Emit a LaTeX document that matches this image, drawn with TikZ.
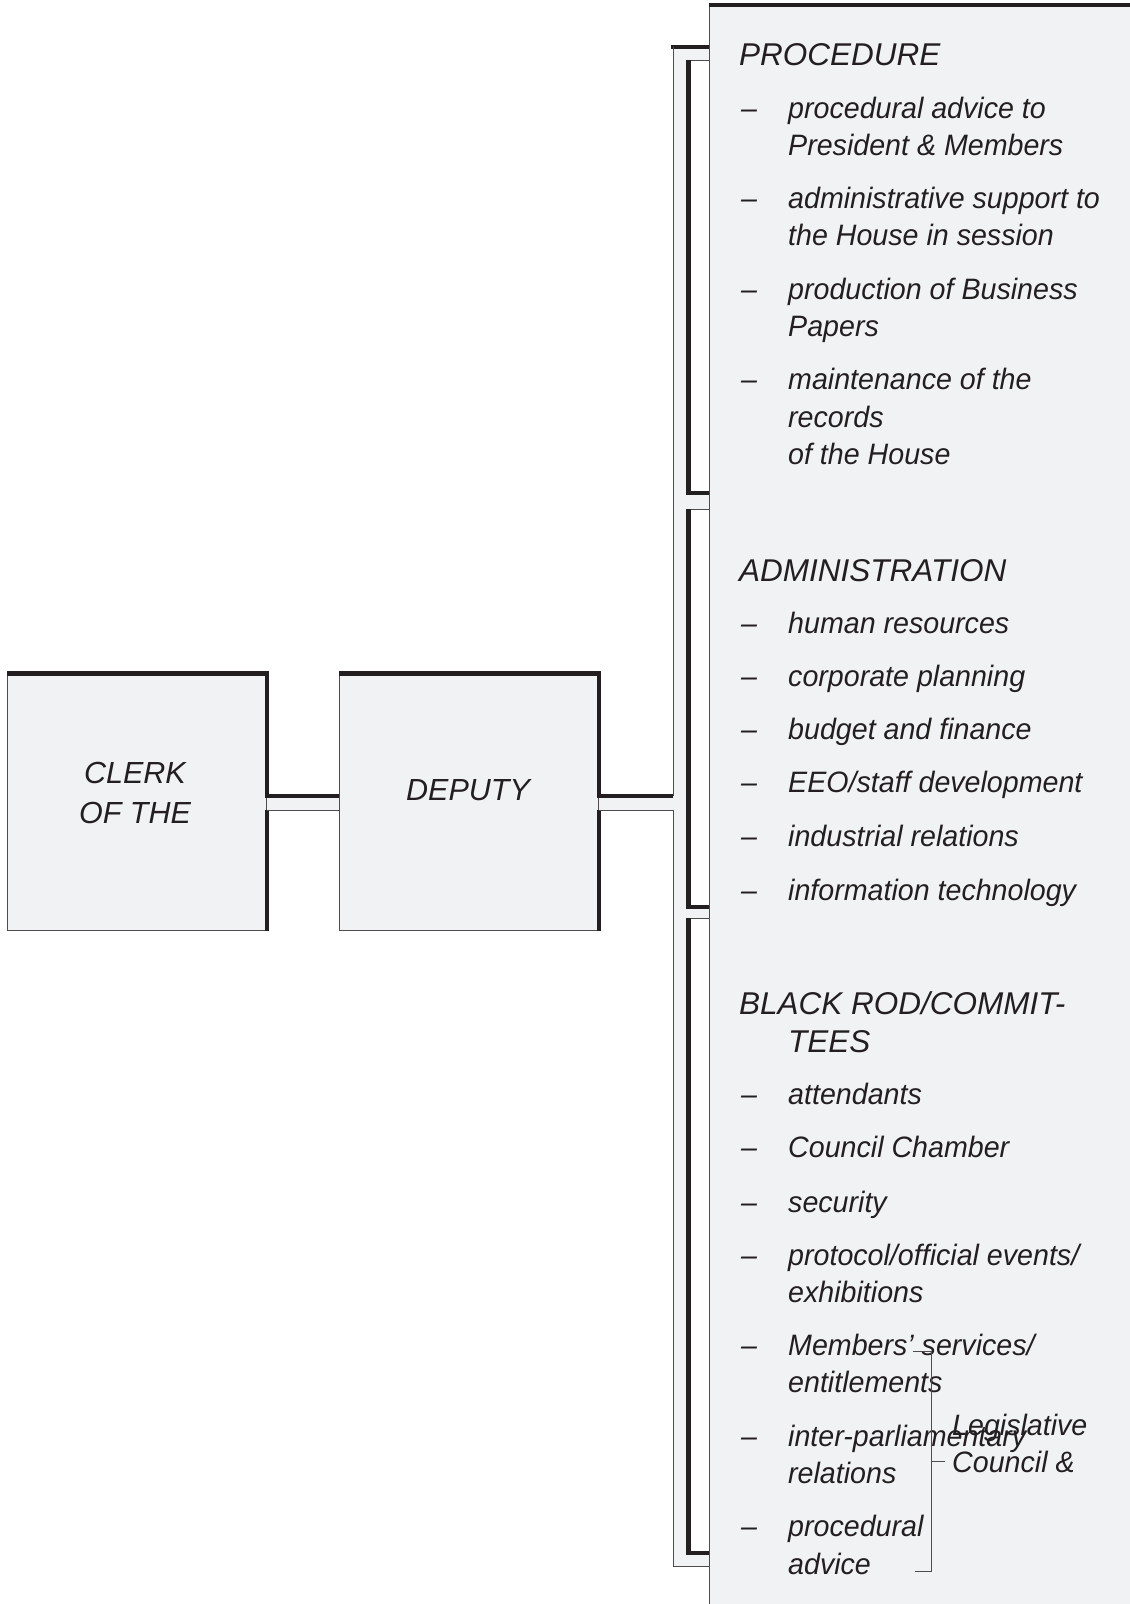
\documentclass[tikz,border=0pt]{standalone}
\usepackage{fontspec}
\setmainfont{Liberation Sans}
\newfontfamily\condfont{Liberation Sans}[FakeStretch=0.97,Ligatures=TeX]
\usetikzlibrary{calc}
\definecolor{paper}{RGB}{241,242,244}
\definecolor{ink}{RGB}{35,31,32}
\begin{document}
\begin{tikzpicture}[x=1pt,y=-1pt]
        \tikzset{box/.style = {shape=rectangle,fill=paper,draw=ink!80,line width=1pt,minimum width=259pt,minimum height=256pt,inner sep=0pt}}
        \tikzset{heavy/.style = {draw=ink,line width=4.5pt}}
        \tikzset{light/.style = {draw=ink!80,line width=1pt}}
        \tikzset{txt/.style = {anchor=base west,inner sep=0pt,text=ink,font=\condfont\fontsize{29.5}{36}\selectfont\itshape}}
        \tikzset{headtxt/.style = {txt,font=\fontsize{31.5}{36}\selectfont\itshape}}
        \tikzset{boxtxt/.style = {align=center,inner sep=0pt,text=ink,font=\fontsize{30.5}{40}\selectfont\itshape}}
        \useasboundingbox (0,0) rectangle (1130,1604);
        % panel on the right
        \fill[paper] (709,5) rectangle (1130,1604);
        \draw[light] (709,5) -- (709,1604);
        \draw[heavy] (709,5) -- (1130,5);
        % column between deputy and panel
        \coordinate (col) at (673,802);
        \fill[paper] (673,47) rectangle (709,1566);
        \foreach \top/\bot in {60/493,509/907,918/1553} {
            \fill[white] (690,\top) rectangle (709,\bot);
            \draw[light] (688,\top) -- (709,\top);
            \draw[heavy] (688.5,\top) -- (688.5,\bot) -- (709,\bot);
        }
        \draw[heavy] (671,47) -- (709,47);
        \draw[light] ($(col)+(0,-6)$) -- (673,47);
        \draw[light] ($(col)+(0,8)$) -- (673,1566) -- (709,1566);
        % boxes on the left
        \node[box] (clerk) at (137,802) {};
        \node[box] (deputy) at (469,802) {};
        \node[boxtxt] (clerktxt) at (135,793) {CLERK\\OF THE};
        \node[boxtxt] (deputytxt) at (468,790) {DEPUTY};
        % pipes between the boxes
        \fill[paper] ($(clerk.east)+(0,-6)$) rectangle ($(deputy.west)+(0,8)$);
        \fill[paper] ($(deputy.east)+(0,-6)$) rectangle ($(col)+(0,8)$);
        \draw[heavy] (clerk.north west) -- (clerk.north east) -- ($(clerk.east)+(0,-6)$) -- ($(deputy.west)+(0,-6)$);
        \draw[heavy] ($(clerk.east)+(0,8)$) -- (clerk.south east);
        \draw[light] ($(clerk.east)+(0,8)$) -- ($(deputy.west)+(0,8)$);
        \draw[heavy] (deputy.north west) -- (deputy.north east) -- ($(deputy.east)+(0,-6)$) -- ($(col)+(0,-6)$);
        \draw[heavy] ($(deputy.east)+(0,8)$) -- (deputy.south east);
        \draw[light] ($(deputy.east)+(0,8)$) -- ($(col)+(0,8)$);
        % procedure
        \node[headtxt] (proc) at (739,65) {PROCEDURE};
        \foreach \y [count=\i] in {118,208,299,389}
            \node[txt] (pdash\i) at (741,\y) {–};
        \foreach \y/\t [count=\i] in {118/{procedural advice to},155/{President \& Members},
            208/{administrative support to},245/{the House in session},
            299/{production of Business},336/{Papers},
            389/{maintenance of the},427/{records},464/{of the House}}
            \node[txt] (proc\i) at (788,\y) {\t};
        % administration
        \node[headtxt] (admin) at (739,581) {ADMINISTRATION};
        \foreach \y/\t [count=\i] in {633/{human resources},686/{corporate planning},
            739/{budget and finance},792/{EEO/staff development},
            846/{industrial relations},900/{information technology}} {
            \node[txt] (adash\i) at (741,\y) {–};
            \node[txt] (admin\i) at (788,\y) {\t};
        }
        % black rod / committees
        \node[headtxt] (rod) at (739,1014) {BLACK ROD/COMMIT-};
        \node[headtxt] (rodb) at (788,1052) {TEES};
        \foreach \y [count=\i] in {1104,1157,1212,1265,1355,1446,1536}
            \node[txt] (rdash\i) at (741,\y) {–};
        \foreach \y/\t [count=\i] in {1104/{attendants},1157/{Council Chamber},1212/{security},
            1265/{protocol/official events/},1302/{exhibitions},
            1355/{Members’ services/},1392/{entitlements},
            1446/{inter-parliamentary},1483/{relations},
            1536/{procedural},1574/{advice}}
            \node[txt] (rod\i) at (788,\y) {\t};
        % bracket for the council
        \node[txt] (leg) at (952,1435) {Legislative};
        \node[txt] (council) at (952,1472) {Council \&};
        \coordinate (btop) at (913,1351);
        \coordinate (bbot) at (915,1571);
        \coordinate (bmid) at (945,1461);
        \draw[light] (btop) -- (931,1351) -- (931,1571) -- (bbot);
        \draw[light] (931,1461) -- (bmid);
\end{tikzpicture}
\end{document}
